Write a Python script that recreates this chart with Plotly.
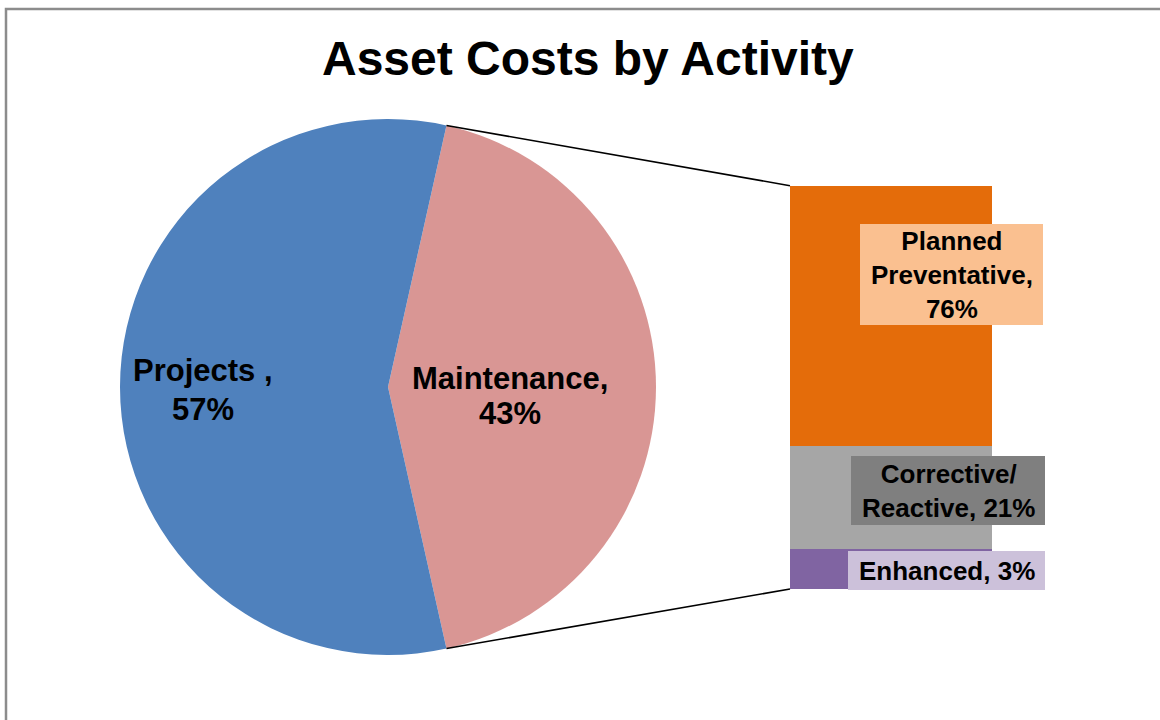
import math
import plotly.graph_objects as go

# ---------------- data ----------------
title_text = "Asset Costs by Activity"
pie_labels = ["Maintenance,", "Projects ,"]
pie_values = [43, 57]
pie_pct_labels = ["43%", "57%"]
pie_colors = ["#D99694", "#4F81BD"]

bar_labels = ["Enhanced, 3%", "Corrective/<br>Reactive, 21%", "Planned<br>Preventative,<br>76%"]
bar_values = [10, 25.6, 64.4]          # segment heights as drawn in the bar
bar_colors = ["#8064A2", "#A6A6A6", "#E46C0A"]
bar_box_colors = ["#CCC1DA", "#7F7F7F", "#FAC090"]

W, H = 1160, 720
FONT = "Liberation Sans, Arial, sans-serif"

# ---------------- geometry (layout) ----------------
pie_cx, pie_cy, pie_r = 388, 387, 268          # px (from top)
pie_dom_x = [(pie_cx - pie_r) / W, (pie_cx + pie_r) / W]
pie_dom_y = [1 - (pie_cy + pie_r) / H, 1 - (pie_cy - pie_r) / H]

bar_x0, bar_x1, bar_top, bar_bot = 790, 992, 185.7, 589
bar_dom_x = [bar_x0 / W, bar_x1 / W]
bar_dom_y = [1 - bar_bot / H, 1 - bar_top / H]

share = pie_values[0] / sum(pie_values)
rotation = 90 - share * 180   # centre the maintenance wedge on the right

fig = go.Figure()
fig.add_trace(go.Pie(
    labels=[l.strip(" ,") for l in pie_labels], values=pie_values, sort=False,
    direction="clockwise", rotation=rotation,
    marker=dict(colors=pie_colors, line=dict(width=0)),
    textinfo="none", hoverinfo="label+percent",
    domain=dict(x=pie_dom_x, y=pie_dom_y), showlegend=False,
))

for v, c, lab in zip(bar_values, bar_colors, bar_labels):
    fig.add_trace(go.Bar(
        x=[0], y=[v], width=1, marker=dict(color=c, line=dict(width=0)),
        xaxis="x2", yaxis="y2", showlegend=False, hoverinfo="skip",
    ))

shapes = []
# chart frame
shapes.append(dict(type="rect", xref="paper", yref="paper",
                   x0=6 / W, x1=1.02, y0=-0.02, y1=1 - 9 / H,
                   line=dict(color="#8C8C8C", width=2.5), fillcolor="rgba(0,0,0,0)"))

# connector lines from pie wedge edges to bar corners
a0 = math.radians(rotation)
a1 = math.radians(rotation + share * 360)
for ang, by in [(a0, bar_dom_y[1]), (a1, bar_dom_y[0])]:
    px = pie_cx + pie_r * math.sin(ang)
    py = pie_cy - pie_r * math.cos(ang)
    shapes.append(dict(type="line", xref="paper", yref="paper",
                       x0=px / W, y0=1 - py / H, x1=bar_dom_x[0], y1=by,
                       line=dict(color="black", width=1.6)))

# label boxes in the bar
boxes = [(848, 1045, 551, 590), (851, 1045, 456, 525), (860, 1043, 224, 325)]
for (x0, x1, y0, y1), col in zip(boxes, bar_box_colors):
    shapes.append(dict(type="rect", xref="paper", yref="paper", layer="above",
                       x0=x0 / W, x1=x1 / W, y0=1 - y1 / H, y1=1 - y0 / H,
                       fillcolor=col, line=dict(width=0)))

annotations = []
annotations.append(dict(text="<b>" + title_text + "</b>", x=587.5 / W, y=1 - 58 / H,
                        xref="paper", yref="paper", showarrow=False,
                        xanchor="center", yanchor="middle",
                        font=dict(family=FONT, size=48, color="black")))

# each pie label as two lines to match the tighter line spacing
pie_label_pos = [(510, 378, 413), (203, 371, 409)]
for lab, pct, (x, y1, y2) in zip(pie_labels, pie_pct_labels, pie_label_pos):
    for txt, y in [(lab, y1), (pct, y2)]:
        annotations.append(dict(text="<b>" + txt + "</b>", x=x / W, y=1 - y / H,
                                xref="paper", yref="paper", showarrow=False,
                                xanchor="center", yanchor="middle", align="center",
                                font=dict(family=FONT, size=31, color="black")))

for lab, (x0, x1, y0, y1) in zip(bar_labels, boxes):
    annotations.append(dict(text="<b>" + lab + "</b>", x=(x0 + x1) / 2 / W,
                            y=1 - (y0 + y1) / 2 / H,
                            xref="paper", yref="paper", showarrow=False,
                            xanchor="center", yanchor="middle", align="center",
                            font=dict(family=FONT, size=26, color="black")))

fig.update_layout(
    width=W, height=H, margin=dict(l=0, r=0, t=0, b=0),
    paper_bgcolor="white", plot_bgcolor="rgba(0,0,0,0)",
    barmode="stack", bargap=0,
    xaxis=dict(visible=False),
    yaxis=dict(visible=False),
    xaxis2=dict(domain=bar_dom_x, range=[-0.5, 0.5], visible=False, anchor="y2", fixedrange=True),
    yaxis2=dict(domain=bar_dom_y, range=[0, sum(bar_values)], visible=False, anchor="x2", fixedrange=True),
    shapes=shapes, annotations=annotations,
)

fig.write_html("out.html", config={"displayModeBar": False},
               post_script="document.body.style.margin='0';document.body.style.overflow='hidden';")
